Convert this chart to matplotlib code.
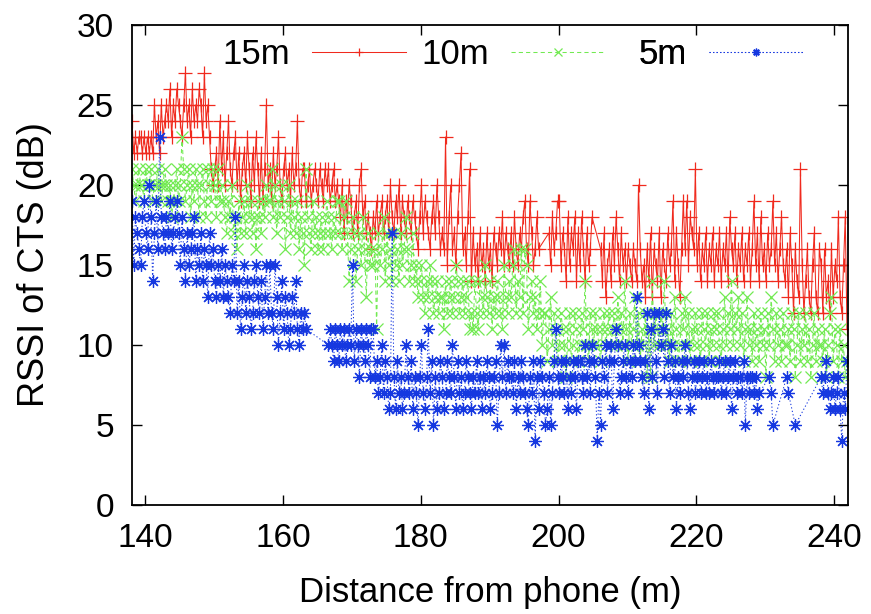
import matplotlib
matplotlib.use("Agg")
import matplotlib.pyplot as plt

plt.rcParams['font.family'] = ['Liberation Sans', 'DejaVu Sans']

# distance of each reading (m): four readings per metre
distance = [
    138.1, 138.35, 138.6, 138.85, 139.1, 139.35, 139.6, 139.85, 140.1, 140.35, 140.6, 140.85, 141.1, 141.35, 141.6, 141.85, 142.1, 142.35, 142.6, 142.85,
    143.1, 143.35, 143.6, 143.85, 144.1, 144.35, 144.6, 144.85, 145.1, 145.35, 145.6, 145.85, 146.1, 146.35, 146.6, 146.85, 147.1, 147.35, 147.6, 147.85,
    148.1, 148.35, 148.6, 148.85, 149.1, 149.35, 149.6, 149.85, 150.1, 150.35, 150.6, 150.85, 151.1, 151.35, 151.6, 151.85, 152.1, 152.35, 152.6, 152.85,
    153.1, 153.35, 153.6, 153.85, 154.1, 154.35, 154.6, 154.85, 155.1, 155.35, 155.6, 155.85, 156.1, 156.35, 156.6, 156.85, 157.1, 157.35, 157.6, 157.85,
    158.1, 158.35, 158.6, 158.85, 159.1, 159.35, 159.6, 159.85, 160.1, 160.35, 160.6, 160.85, 161.1, 161.35, 161.6, 161.85, 162.1, 162.35, 162.6, 162.85,
    163.1, 163.35, 163.6, 163.85, 164.1, 164.35, 164.6, 164.85, 165.1, 165.35, 165.6, 165.85, 166.1, 166.35, 166.6, 166.85, 167.1, 167.35, 167.6, 167.85,
    168.1, 168.35, 168.6, 168.85, 169.1, 169.35, 169.6, 169.85, 170.1, 170.35, 170.6, 170.85, 171.1, 171.35, 171.6, 171.85, 172.1, 172.35, 172.6, 172.85,
    173.1, 173.35, 173.6, 173.85, 174.1, 174.35, 174.6, 174.85, 175.1, 175.35, 175.6, 175.85, 176.1, 176.35, 176.6, 176.85, 177.1, 177.35, 177.6, 177.85,
    178.1, 178.35, 178.6, 178.85, 179.1, 179.35, 179.6, 179.85, 180.1, 180.35, 180.6, 180.85, 181.1, 181.35, 181.6, 181.85, 182.1, 182.35, 182.6, 182.85,
    183.1, 183.35, 183.6, 183.85, 184.1, 184.35, 184.6, 184.85, 185.1, 185.35, 185.6, 185.85, 186.1, 186.35, 186.6, 186.85, 187.1, 187.35, 187.6, 187.85,
    188.1, 188.35, 188.6, 188.85, 189.1, 189.35, 189.6, 189.85, 190.1, 190.35, 190.6, 190.85, 191.1, 191.35, 191.6, 191.85, 192.1, 192.35, 192.6, 192.85,
    193.1, 193.35, 193.6, 193.85, 194.1, 194.35, 194.6, 194.85, 195.1, 195.35, 195.6, 195.85, 196.1, 196.35, 196.6, 196.85, 197.1, 197.35, 197.6, 197.85,
    198.1, 198.35, 198.6, 198.85, 199.1, 199.35, 199.6, 199.85, 200.1, 200.35, 200.6, 200.85, 201.1, 201.35, 201.6, 201.85, 202.1, 202.35, 202.6, 202.85,
    203.1, 203.35, 203.6, 203.85, 204.1, 204.35, 204.6, 204.85, 205.1, 205.35, 205.6, 205.85, 206.1, 206.35, 206.6, 206.85, 207.1, 207.35, 207.6, 207.85,
    208.1, 208.35, 208.6, 208.85, 209.1, 209.35, 209.6, 209.85, 210.1, 210.35, 210.6, 210.85, 211.1, 211.35, 211.6, 211.85, 212.1, 212.35, 212.6, 212.85,
    213.1, 213.35, 213.6, 213.85, 214.1, 214.35, 214.6, 214.85, 215.1, 215.35, 215.6, 215.85, 216.1, 216.35, 216.6, 216.85, 217.1, 217.35, 217.6, 217.85,
    218.1, 218.35, 218.6, 218.85, 219.1, 219.35, 219.6, 219.85, 220.1, 220.35, 220.6, 220.85, 221.1, 221.35, 221.6, 221.85, 222.1, 222.35, 222.6, 222.85,
    223.1, 223.35, 223.6, 223.85, 224.1, 224.35, 224.6, 224.85, 225.1, 225.35, 225.6, 225.85, 226.1, 226.35, 226.6, 226.85, 227.1, 227.35, 227.6, 227.85,
    228.1, 228.35, 228.6, 228.85, 229.1, 229.35, 229.6, 229.85, 230.1, 230.35, 230.6, 230.85, 231.1, 231.35, 231.6, 231.85, 232.1, 232.35, 232.6, 232.85,
    233.1, 233.35, 233.6, 233.85, 234.1, 234.35, 234.6, 234.85, 235.1, 235.35, 235.6, 235.85, 236.1, 236.35, 236.6, 236.85, 237.1, 237.35, 237.6, 237.85,
    238.1, 238.35, 238.6, 238.85, 239.1, 239.35, 239.6, 239.85, 240.1, 240.35, 240.6, 240.85, 241.1, 241.35, 241.6, 241.85,
]

# RSSI of CTS (dB); None = no reading at that distance
rssi_15m = [
    24, 22, 23, 22, 23, 23, 22, 23, 22, 23, 22, 23, 22, 25, 23, 24, 22, 25, 23, 24,
    25, 24, 26, 23, 25, 24, 26, 25, 24, 23, 25, 27, 24, 25, 23, 26, 24, 25, 24, 26,
    25, 23, 27, 24, 25, 23, 21, 20, 21, 22, 20, 24, 21, 23, 20, 22, 24, 21, 20, 22,
    23, 20, 22, 19, 21, 22, 20, 23, 21, 19, 22, 20, 23, 21, 19, 22, 19, 21, 25, 20,
    21, 19, 22, 20, 21, 23, 20, 19, 21, 22, 20, 21, 19, 22, 20, 21, 24, 20, 19, 21,
    21, 19, 20, 21, 19, 20, 21, 20, 19, 21, 20, 19, 21, 20, 21, 19, 20, 21, 19, 20,
    19, 18, 20, 17, 19, 18, 20, 19, 17, 18, 19, 17, 20, 21, 18, 19, 17, 18, 17, 16,
    18, 17, 19, 17, 18, 19, 17, 18, 19, 17, 20, 18, 17, 19, 18, 20, 17, 19, 18, 17,
    19, 18, 17, 19, 18, 17, 16, 18, 20, 17, 19, 18, 17, 16, 18, 19, 17, 20, 18, 16,
    17, 16, 23, 15, 18, 20, 16, 17, 15, 18, 20, 22, 16, 17, 15, 18, 21, 14, 17, 15,
    16, 14, 17, 15, 16, 14, 17, 15, 16, 14, 17, 16, 15, 17, 16, 18, 15, 17, 16, 15,
    17, 15, 18, 16, 15, 17, 16, 18, 19, 16, 15, 19, 17, 15, 16, 18, 16, None, None, None,
    None, None, 17, 15, 18, 16, 17, 19, 19, 15, 17, 16, 14, 18, 15, 17, 16, 18, 14, 17,
    15, 18, 16, 14, 17, 15, 16, 18, None, None, None, None, 16, 14, 17, 13, 15, 16, 14, 17,
    15, 18, 16, 14, 17, 15, 16, 14, 16, 15, 14, 16, 15, 14, 20, 16, 14, 15, 13, 16,
    14, 17, 13, 16, 15, 14, 17, 13, 16, 15, 14, 17, 15, 16, 19, 14, 17, 15, 13, 16,
    19, 16, 19, 15, 18, 17, 16, 21, 15, 17, 14, 16, 15, 17, 14, 16, 15, 17, 14, 16,
    15, 17, 14, 16, 15, 17, 14, 18, 16, 15, 17, 14, 16, 15, 17, 14, 16, 15, 17, 14,
    16, 19, 15, 17, 14, 18, 15, 16, 14, 17, 15, 16, 19, 15, 17, 14, 16, 18, 15, 14,
    16, 13, 17, 15, 12, 16, 14, 13, 21, 15, 12, 14, 16, 13, 12, 15, 17, 13, 12, 16,
    15, 12, 16, 13, 14, 12, 16, 13, 15, 14, 18, 13, 12, 15, 18, 11,
]

rssi_10m = [
    21, 20, 19, 20, 21, 20, 20, 19, 21, 20, 20, 21, 19, 20, 20, 21, 20, 19, 20, 21,
    20, 19, 20, 18, 19, 20, 21, 19, 20, 23, 21, 19, 20, 21, 18, 20, 19, 21, 20, 18,
    20, 21, 19, 18, 21, 20, 19, 21, 20, 18, 21, 19, 20, 19, 18, 17, 19, 18, 20, 17,
    18, 16, 19, 17, 18, 19, 17, 20, 18, 19, 17, 18, 16, 19, 18, 17, 19, 18, 20, 19,
    19, 21, 18, 20, 17, 19, 18, 20, 19, 16, 18, 20, 17, 19, 18, 17, 19, 16, 18, 17,
    15, 21, 18, 17, 16, 19, 17, 18, 16, 17, 18, 16, 17, 19, 18, 17, 16, 18, 17, 19,
    19, 17, 16, 18, 19, 17, 14, 16, 18, 17, 14, 16, 17, 15, 18, 16, 13, 17, 15, 16,
    15, 16, 11, 17, 15, 16, 18, 14, 17, 15, 16, 14, 17, 15, 16, 14, 17, 15, 16, 18,
    16, 14, 15, 17, 14, 15, 13, 14, 15, 13, 12, 14, 13, 15, 14, 12, 13, 14, 12, 13,
    13, 11, 14, 12, 13, 14, 12, 13, 15, 14, 12, 13, 14, 12, 13, 14, 11, 12, 11, 14,
    12, 11, 14, 13, 12, 15, 13, 12, 14, 11, 13, 12, 14, 13, 12, 11, 15, 13, 12, 14,
    13, 15, 16, 12, 14, 13, 16, 12, 16, 15, 11, 13, 14, 12, 13, 11, 12, 14, 10, 12,
    12, 9, 11, 13, 10, 12, 11, 9, 10, 12, 11, 10, 8, 11, 12, 9, 10, 12, 11, 9,
    10, 12, 11, 14, 10, 9, 12, 11, 10, 12, 11, 10, 9, 11, 12, 10, 11, 12, 10, 11,
    12, 10, 13, 11, 12, 10, 14, 11, 9, 12, 10, 11, 13, 10, 12, 9, 11, 10, 12, 8,
    11, 8, 14, 10, 12, 11, 10, 12, 11, 14, 10, 11, 9, 12, 10, 13, 11, 9, 10, 12,
    11, 13, 10, 12, 9, 11, 10, 12, 11, 10, 9, 12, 11, 10, 12, 9, 11, 10, 12, 11,
    12, 10, 9, 11, 13, 10, 12, 11, 14, 10, 12, 11, 13, 10, 12, 9, 11, 13, 10, 11,
    9, 12, 10, 11, 9, 12, 10, 11, 8, 12, 10, 13, 11, 9, 12, 10, 11, 9, 12, 10,
    10, 11, 9, 12, 11, 8, 10, 12, 9, 11, 10, 12, 9, 11, 8, 10, 12, 9, 11, 10,
    10, 9, 11, 8, 10, 12, 13, 9, 11, 10, 8, 11, 9, 10, 8, 9,
]

rssi_5m = [
    19, 15, 18, 17, 16, 15, 18, 19, 17, 16, 20, 18, 14, 17, 19, 16, 23, 18, 17, 16,
    18, 17, 19, 16, 17, 18, 19, 17, 15, 18, 16, 14, 17, 15, 16, 17, 18, 14, 16, 15,
    17, 14, 16, 15, 13, 17, 15, 16, 14, 13, 15, 14, 16, 13, 15, 14, 13, 12, 15, 14,
    18, 12, 14, 11, 13, 15, 12, 14, 13, 11, 12, 14, 15, 13, 12, 14, 11, 13, 15, 12,
    15, 12, 11, 15, 13, 10, 12, 14, 11, 13, 12, 10, 11, 13, 12, 14, 11, 10, 12, 11,
    12, 11, None, None, None, None, None, None, None, None, None, None, None, None, 10, 11, 10, 9, 11, 10,
    9, 11, 10, 11, 9, 10, 11, 10, 15, 9, 11, 10, 8, 11, 10, 9, 11, 10, 8, 11,
    11, 8, 9, 7, 8, 10, 7, 9, 8, 6, 7, 17, 8, 6, 9, 7, 8, 6, 7, 10,
    8, 7, 9, 6, 8, 7, 5, 8, 10, 7, 6, 8, 11, 7, 9, 5, 8, 6, 7, 9,
    8, 6, 7, 9, 8, 7, 10, 8, 6, 9, 7, 8, 6, 7, 9, 8, 7, 6, 8, 7,
    9, 7, 8, 6, 8, 7, 9, 8, 6, 7, 8, 9, 5, 7, 10, 8, 10, 7, 9, 8,
    8, 7, 9, 6, 8, 7, 9, 8, 7, 6, 5, 8, 7, 9, 4, 8, 6, 9, 8, 7,
    5, 6, 8, 5, 7, 9, 11, 8, 7, 9, 8, 7, 9, 6, 8, 7, 9, 8, 6, 9,
    9, 8, 7, 10, 8, 9, 7, 10, 9, 8, 4, 7, 5, 9, 8, 10, 7, 9, 10, 6,
    9, 11, 10, 7, 8, 9, 10, 8, 7, 9, 8, 10, 9, 13, 10, 9, 8, 7, 9, 12,
    6, 11, 8, 12, 9, 7, 12, 10, 11, 8, 12, 9, 7, 10, 8, 9, 6, 8, 7, 9,
    8, 10, 9, 7, 6, 8, 9, 7, 8, 9, 7, 8, 9, 7, 8, 7, 9, 8, 7, 8,
    8, 9, 7, 8, 9, 7, 8, 9, 6, 8, 9, 7, 8, 8, 7, 9, 5, 8, 7, 8,
    8, 7, 8, 6, 7, None, None, None, None, None, 8, 7, 5, None, None, None, None, None, None, None,
    8, 7, None, None, None, 5, None, None, None, None, None, None, None, None, None, None, None, None, None, None,
    8, 7, 8, 9, 7, 6, 7, 8, 6, 7, 8, 6, 4, 7, 6, 9,
]

series_labels = ['15m', '10m', '5m']
series_values = [rssi_15m, rssi_10m, rssi_5m]
colors = ['#f02a1e', '#72ea52', '#1638e0']
markers = ['+', 'x', (8, 2, 0)]
marker_sizes = [10.5, 8.5, 9]
styles = ['-', (0, (4, 3)), (0, (1.2, 2.2))]

x_ticks = [140, 160, 180, 200, 220, 240]
y_ticks = [0, 5, 10, 15, 20, 25, 30]

for vals in series_values:
    if len(vals) != len(distance):
        raise ValueError('length mismatch: %d vs %d' % (len(vals), len(distance)))

fig = plt.figure(figsize=(8.71, 6.14), dpi=100)
ax = fig.add_axes([132 / 871, 1 - 505 / 614, 716 / 871, 480 / 614])

handles = []
for lab, vals, c, m, ms, ls in zip(series_labels, series_values, colors,
                                   markers, marker_sizes, styles):
    xs = [d for d, v in zip(distance, vals) if v is not None]
    ys = [v for v in vals if v is not None]
    h, = ax.plot(xs, ys, color=c, linestyle=ls, linewidth=0.75, marker=m,
                 markersize=ms, markeredgewidth=0.9, label=lab)
    handles.append(h)

ax.set_xlim(138.1, 242.0)
ax.set_ylim(0, 30)
ax.set_xticks(x_ticks)
ax.set_yticks(y_ticks)
ax.tick_params(direction='in', length=7, width=1, top=True, right=True,
               labelsize=24, pad=13)
for s in ax.spines.values():
    s.set_linewidth(1.3)

ax.set_xlabel('Distance from phone (m)', fontsize=25, labelpad=16)
ax.set_ylabel('RSSI of CTS (dB)', fontsize=26, labelpad=18)

# gnuplot-style key: right-aligned text followed by the sample, three slots
key_right_px = [406, 605, 803]
for h, rpx in zip(handles, key_right_px):
    lg = ax.legend(handles=[h], loc='center right',
                   bbox_to_anchor=((rpx - 132) / 716, (505 - 55) / 480),
                   frameon=False, markerfirst=False, fontsize=25,
                   handlelength=2.7, handletextpad=0.65, borderpad=0,
                   borderaxespad=0, numpoints=1, markerscale=0.6)
    ax.add_artist(lg)

fig.savefig('out.png', dpi=100)
